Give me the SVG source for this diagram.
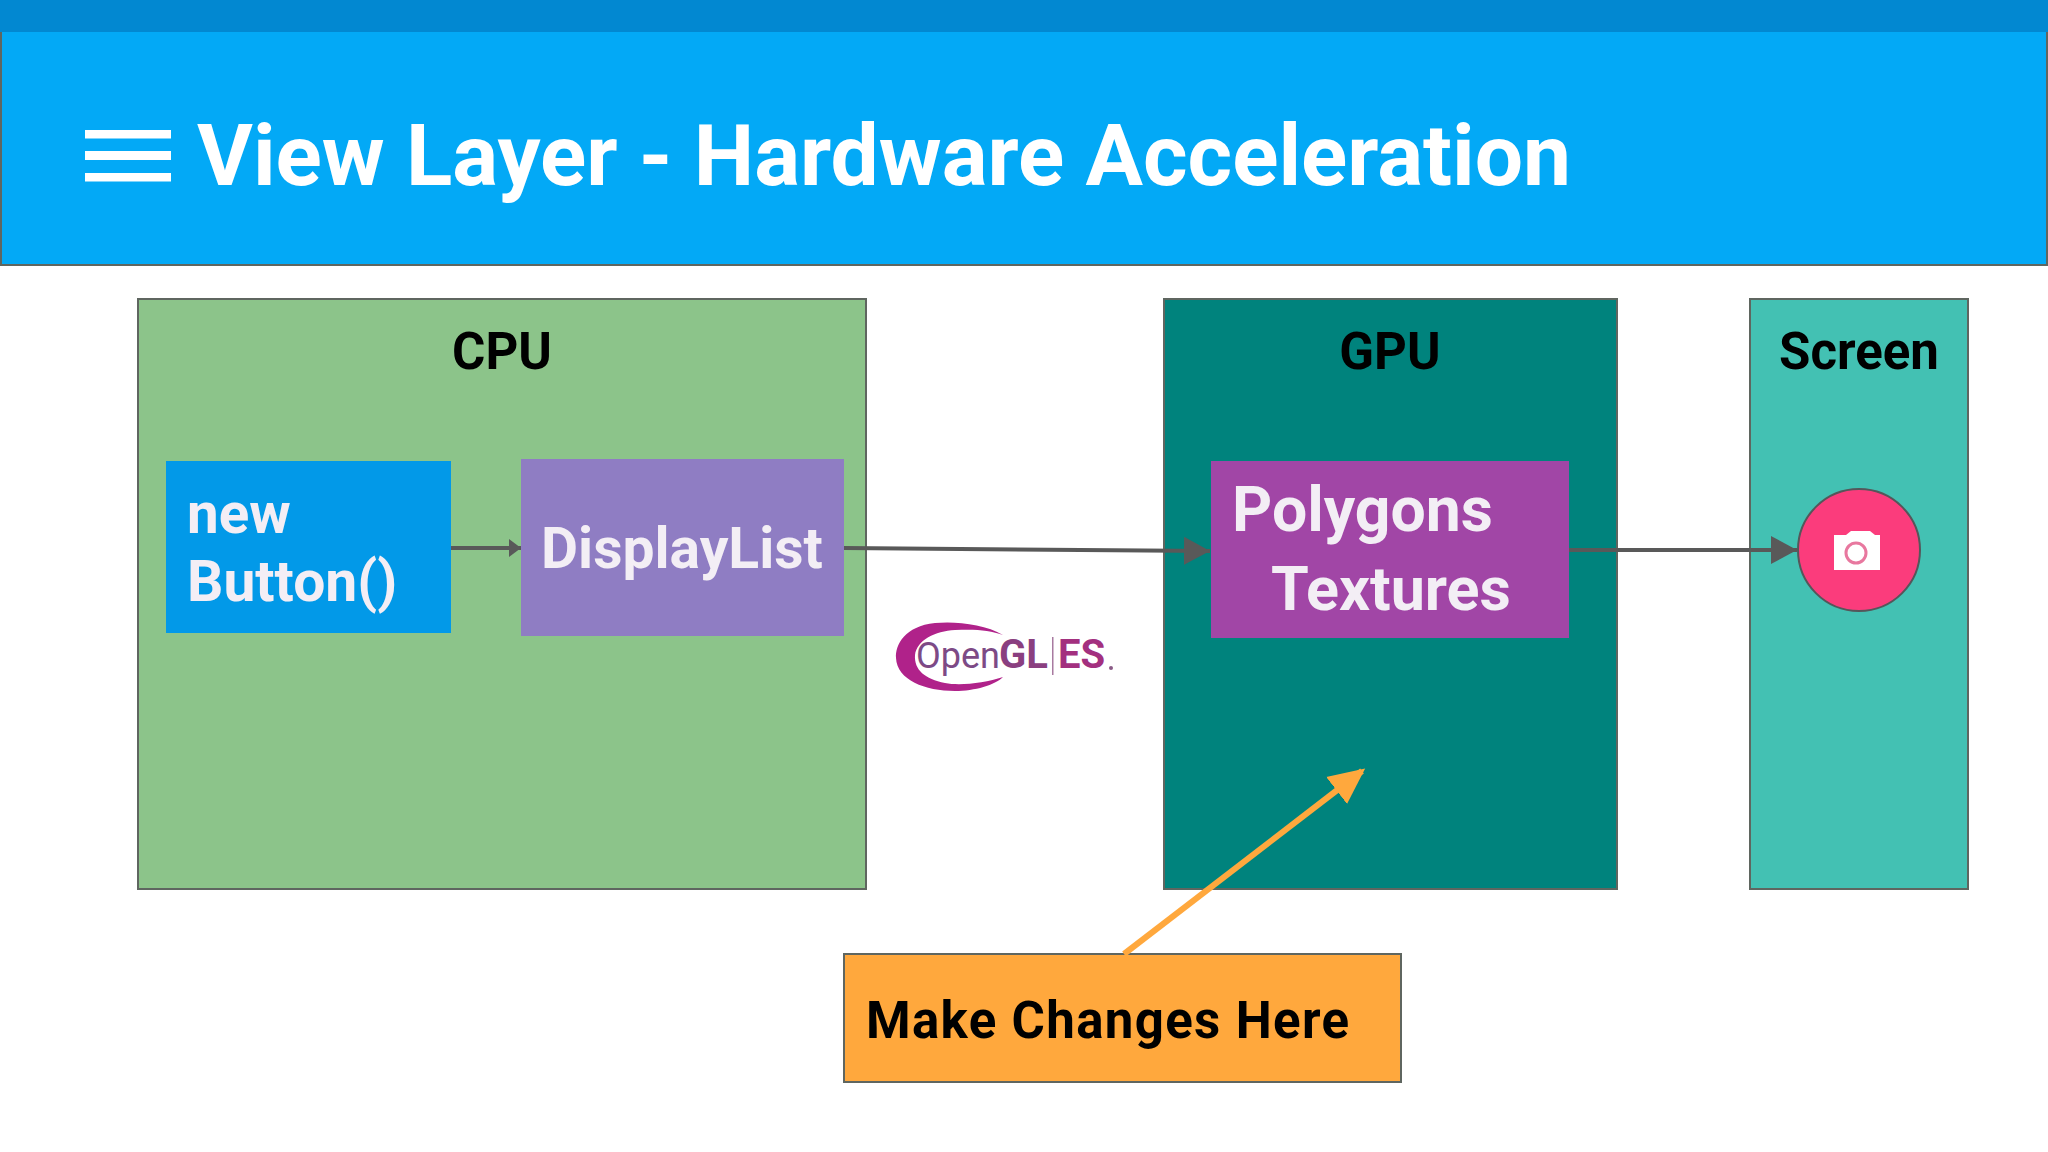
<svg xmlns="http://www.w3.org/2000/svg" width="2048" height="1152" viewBox="0 0 2048 1152">
<style>
text{font-family:Roboto,"Liberation Sans",sans-serif;font-weight:700}
.box{stroke:#5f6660;stroke-width:2}
.w{fill:#f3eef5}
.k{fill:#000;font-size:51px;text-anchor:middle}
.c{fill:none;stroke:#595959;stroke-width:4}
.i{fill:#fff}
</style>
<defs>
<marker id="a" markerUnits="userSpaceOnUse" markerWidth="26" markerHeight="28" refX="26" refY="14" orient="auto"><path d="M0 0L26 14L0 28Z" fill="#595959"/></marker>
<marker id="s" markerUnits="userSpaceOnUse" markerWidth="12" markerHeight="18" refX="12" refY="9" orient="auto"><path d="M0 0L12 9L0 18Z" fill="#595959"/></marker>
<marker id="o" markerUnits="userSpaceOnUse" markerWidth="38" markerHeight="38" refX="32" refY="19" orient="auto"><path d="M0 2L36 19L0 36Z" fill="#ffa83d"/></marker>
</defs>
<rect width="2048" height="1152" fill="#fff"/>
<g id="header">
<rect x="0" y="0" width="2048" height="32" fill="#0288d1"/>
<rect x="1" y="32" width="2046" height="233" fill="#03a9f6"/>
<path d="M1 32V265H2047V32" fill="none" stroke="#5f6660" stroke-width="2"/>
<rect class="i" x="85" y="130" width="86" height="8.5"/><rect class="i" x="85" y="151" width="86" height="9"/><rect class="i" x="85" y="173" width="86" height="8.5"/>
<text x="197" y="184.500" font-size="85.6" fill="#fff">View Layer - Hardware Acceleration</text>
</g>
<g id="cpu"><rect class="box" x="138" y="299" width="728" height="590" fill="#8cc48a"/><text class="k" x="502" y="369">CPU</text></g>
<g id="gpu"><rect class="box" x="1164" y="299" width="453" height="590" fill="#00837d"/><text class="k" x="1390" y="369">GPU</text></g>
<g id="screen"><rect class="box" x="1750" y="299" width="218" height="590" fill="#43c1b3"/><text class="k" x="1859" y="369">Screen</text></g>
<g id="new-button"><rect x="166" y="461" width="285" height="172" fill="#0299e8"/><text class="w" font-size="56.500" x="187" y="533">new</text><text class="w" font-size="57" x="187" y="601">Button()</text></g>
<g id="displaylist"><rect x="521" y="459" width="323" height="177" fill="#8f7dc3"/><text class="w" font-size="57" x="541" y="568">DisplayList</text></g>
<g id="polygons"><rect x="1211" y="461" width="358" height="177" fill="#a146a6"/><text class="w" font-size="62.5" x="1232" y="531">Polygons</text><text class="w" font-size="61" x="1271" y="610">Textures</text></g>
<g id="camera">
<circle cx="1859" cy="550" r="61" fill="#fb3c7c" stroke="#54575a" stroke-width="2"/>
<path class="i" d="M1834 535H1846L1851 531H1870L1875 535H1880V570H1834Z"/>
<circle cx="1856" cy="553" r="10" fill="none" stroke="#e8789f" stroke-width="3"/>
</g>
<g id="opengl-logo">
<path d="M1003 635C985 624 955 621 935 623C905 626 895 645 896 658C897 680 925 691 955 691C975 691 995 685 1003 677C985 683 960 686 945 683C925 679 914 670 915 655C917 640 935 631 955 630C975 629 990 630 1003 635Z" fill="#b0228a"/>
<text x="916" y="668" font-size="36" fill="#7d4a86" style="font-weight:400">Open</text>
<text x="999" y="668" font-size="40" fill="#8a3f80">GL</text>
<rect x="1052" y="637" width="1.5" height="38" fill="#a87aa0"/>
<text x="1058" y="668" font-size="40" fill="#a3307f">ES</text>
<circle cx="1111" cy="668" r="2" fill="#8a5a86"/>
</g>
<g id="make-changes"><rect class="box" x="844" y="954" width="557" height="128" fill="#ffa83d"/><text x="866" y="1038" font-size="51" fill="#000" textLength="483">Make Changes Here</text></g>
<g id="connectors">
<path class="c" d="M451 548H521" marker-end="url(#s)"/>
<path class="c" d="M844 548L1210 551" marker-end="url(#a)"/>
<path class="c" d="M1569 550H1797" marker-end="url(#a)"/>
<path d="M1124 954L1362 771" fill="none" stroke="#ffa83d" stroke-width="6" marker-end="url(#o)"/>
</g>
</svg>
